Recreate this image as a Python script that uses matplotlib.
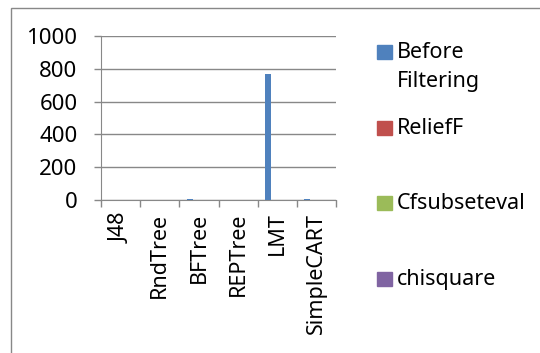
import numpy as np
import matplotlib
matplotlib.use("Agg")
from matplotlib import pyplot as plt
from matplotlib.patches import Rectangle

# Classifiers and values per filtering method
classifiers = ["J48", "RndTree", "BFTree", "REPTree", "LMT", "SimpleCART"]
series_names = ["Before\nFiltering", "ReliefF", "Cfsubseteval", "chisquare"]
before_filtering = [1, 1, 6, 1, 770, 6]
relieff = [0.5, 0.5, 0.5, 0.5, 0.5, 0.5]
cfsubseteval = [0.5, 0.5, 0.5, 0.5, 0.5, 0.5]
chisquare = [0.5, 0.5, 0.5, 0.5, 0.5, 0.5]
colors = ["#4F81BD", "#C0504D", "#9BBB59", "#8064A2"]

plt.rcParams["font.family"] = ["Noto Sans", "DejaVu Sans"]

fig = plt.figure(figsize=(5.4, 3.53), dpi=100)
ax = fig.add_axes([101 / 540, 1 - 200 / 353, 235 / 540, 164 / 353])

x = np.arange(len(classifiers))
width = 0.155
offsets = [-0.23, -0.077, 0.077, 0.23]
all_values = [before_filtering, relieff, cfsubseteval, chisquare]
for vals, off, c in zip(all_values, offsets, colors):
    ax.bar(x + off, vals, width, color=c, zorder=3)

ax.set_xlim(-0.5, len(classifiers) - 0.5)
ax.set_ylim(0, 1000)
ax.set_yticks(range(0, 1001, 200))
ax.yaxis.grid(True, color="#888888", linewidth=1)
ax.set_axisbelow(True)

ax.set_xticks(x)
ax.set_xticklabels(classifiers, rotation=90, fontsize=15.5)
ax.set_xticks(np.arange(-0.5, len(classifiers)), minor=True)
ax.tick_params(axis="x", which="major", length=0, pad=9)
ax.tick_params(axis="x", which="minor", length=5, color="#888888", width=1)
ax.tick_params(axis="y", length=5, color="#888888", width=1, pad=12, labelsize=16)

for side in ["top", "right"]:
    ax.spines[side].set_visible(False)
for side in ["left", "bottom"]:
    ax.spines[side].set_color("#888888")

# legend drawn by hand, evenly spaced entries
legend_y = [52, 128, 203, 279]
for name, c, ly in zip(series_names, colors, legend_y):
    fig.patches.append(Rectangle((377 / 540, 1 - (ly + 7) / 353), 15 / 540, 14 / 353,
                                 transform=fig.transFigure, color=c))
    lines = name.split("\n")
    for i, line in enumerate(lines):
        fig.text(397 / 540, 1 - (ly + 30 * i) / 353, line, fontsize=15.5,
                 va="center", ha="left")

# outer chart border
fig.patches.append(Rectangle((11 / 540, -0.1), 1.0, 1 - 8 / 353 + 0.1,
                             transform=fig.transFigure, fill=False,
                             edgecolor="#888888", linewidth=1))

fig.savefig("out.png", dpi=100)
